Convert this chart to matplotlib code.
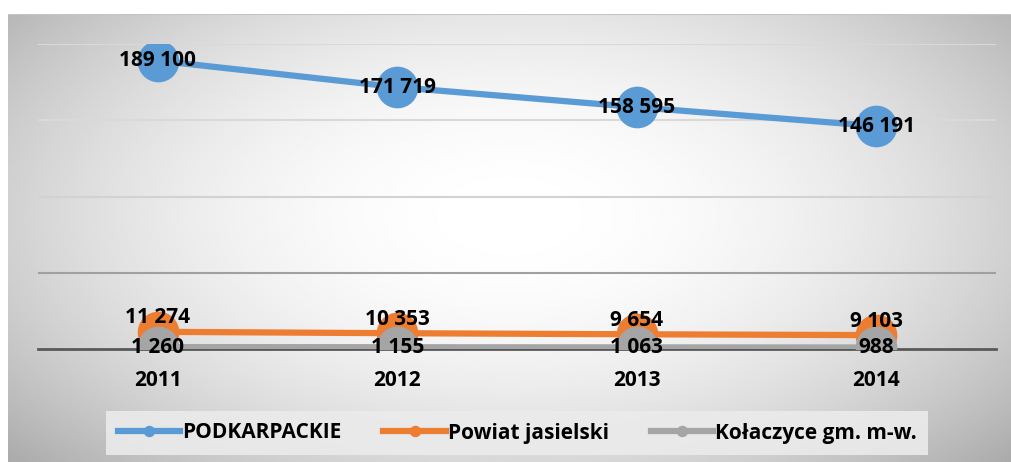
import numpy as np
import matplotlib
matplotlib.use("Agg")
import matplotlib.pyplot as plt

years = ["2011", "2012", "2013", "2014"]
podkarpackie = [189100, 171719, 158595, 146191]
powiat = [11274, 10353, 9654, 9103]
kolaczyce = [1260, 1155, 1063, 988]
labels = ["PODKARPACKIE", "Powiat jasielski", "Kołaczyce gm. m-w."]

plt.rcParams['font.family'] = ['Open Sans', 'DejaVu Sans']
plt.rcParams['font.weight'] = 'bold'
FS = 15

W, H = 1012, 462
fig = plt.figure(figsize=(W / 100, H / 100), dpi=100)

# radial gradient background of the chart area
bg = fig.add_axes([8 / W, 0, 1 - 8 / W, 1 - 14 / H], zorder=0)
yy, xx = np.mgrid[0:1:200j, 0:1:400j]
r = np.sqrt(((xx - 0.5) / 0.5) ** 2 + ((yy - 0.45) / 0.6) ** 2)
shade = 1 - 0.18 * r ** 2
bg.imshow(shade, cmap="gray", vmin=0, vmax=1, aspect="auto",
          extent=[0, 1, 0, 1], interpolation="bilinear")
bg.axhline(1, color="#c4c4c4", lw=1.5)
bg.set_axis_off()

ax = fig.add_axes([38 / W, (H - 349) / H, (996 - 38) / W, (349 - 44) / H], zorder=1)
ax.patch.set_alpha(0)
x = np.arange(len(years))

ax.plot(x, podkarpackie, color="#5b9bd5", lw=4.5, marker="o", ms=29,
        label=labels[0], zorder=3)
ax.plot(x, powiat, color="#ed7d31", lw=4.5, marker="o", ms=29,
        label=labels[1], zorder=3)
ax.plot(x, kolaczyce, color="#a5a5a5", lw=4.5, marker="o", ms=29,
        label=labels[2], zorder=4)

def fmt(v):
    return f"{v:,}".replace(",", " ")

for i in x:
    ax.annotate(fmt(podkarpackie[i]), (i, podkarpackie[i]), ha="center", va="center",
                fontsize=FS, fontweight="bold", zorder=6)
    ax.annotate(fmt(powiat[i]), (i, powiat[i]), xytext=(0, 10), textcoords="offset points",
                ha="center", va="center", fontsize=FS, fontweight="bold", zorder=6)
    ax.annotate(fmt(kolaczyce[i]), (i, kolaczyce[i]), ha="center", va="center",
                fontsize=FS, fontweight="bold", zorder=6)

ax.set_xlim(-0.5, len(years) - 0.5)
ax.set_ylim(0, 200000)
ax.set_yticks([50000, 100000, 150000, 200000])
ax.set_yticklabels([])
ax.tick_params(axis="y", length=0)
ax.set_xticks(x)
ax.set_xticklabels(years, fontsize=FS, fontweight="bold")
ax.tick_params(axis="x", length=0, pad=15)
for y, c in [(50000, "#a0a0a0"), (100000, "#d2d2d2"), (150000, "#d9d9d9"), (200000, "#d9d9d9")]:
    ax.axhline(y, color=c, lw=1.5, zorder=1)
for s in ["top", "right", "left"]:
    ax.spines[s].set_visible(False)
ax.spines["bottom"].set_color("#595959")
ax.spines["bottom"].set_linewidth(2)
ax.spines["bottom"].set_zorder(2)

handles, _ = ax.get_legend_handles_labels()
leg = fig.legend(handles, labels, loc="center", bbox_to_anchor=(517.5 / W, 29 / H),
                 ncol=3, frameon=True, fontsize=FS, handlelength=3.0, markerscale=0.25,
                 columnspacing=2.0, handletextpad=0.1, borderpad=0.55, borderaxespad=0)
leg.get_frame().set_facecolor("#ebebeb")
leg.get_frame().set_edgecolor("none")
leg.get_frame().set_alpha(0.9)
leg.get_frame().set_boxstyle("square", pad=0)
for t in leg.get_texts():
    t.set_fontweight("bold")

fig.savefig("out.png", dpi=100)
